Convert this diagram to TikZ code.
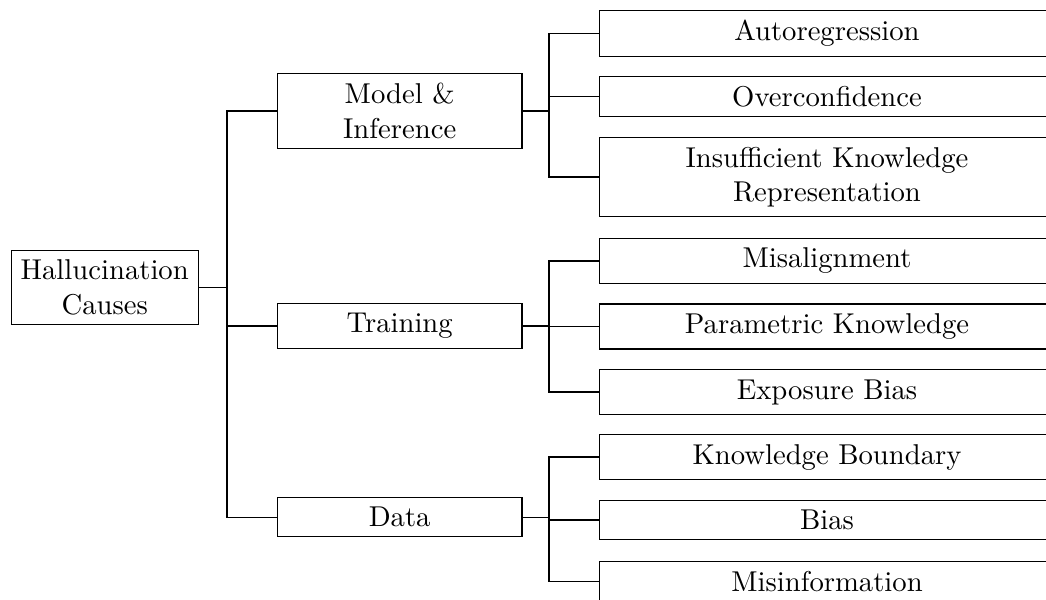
\documentclass[tikz,border=0pt]{standalone}
\begin{document}
\begin{tikzpicture}[x=0.3488pt, y=-0.3488pt,
  box/.style={draw, rectangle, align=center, inner sep=0.3333em, line width=0.4pt},
  rootbox/.style={box},
  midbox/.style={box, minimum width=3cm},
  leafbox/.style={box, minimum width=158.7pt},
  link/.style={draw, line width=0.4pt}]
\useasboundingbox (0,0) rectangle (1046,599);
\clip (0,0) rectangle (1046,599);

% fork columns
\coordinate (f0) at (227,0);
\coordinate (f1) at (549,0);

% root
\node[rootbox] (root) at (104.7,287.2) {Hallucination\\Causes};

% second level
\node[midbox] (m1) at (399.7,111) {Model \&\\Inference};
\node[midbox] (m2) at (399.7,326) {Training};
\node[midbox] (m3) at (399.7,517.3) {Data};

% leaves
\node[leafbox] (l1) at (827,33.5) {Autoregression};
\node[leafbox] (l2) at (827,96.5) {Overconfidence};
\node[leafbox] (l3) at (827,177) {Insufficient Knowledge\\Representation};
\node[leafbox] (l4) at (827,261) {Misalignment};
\node[leafbox] (l5) at (827,326.5) {Parametric Knowledge};
\node[leafbox] (l6) at (827,392) {Exposure Bias};
\node[leafbox] (l7) at (827,457) {Knowledge Boundary};
\node[leafbox] (l8) at (827,520) {Bias};
\node[leafbox] (l9) at (827,581.5) {Misinformation};

% forked edges
\foreach \c in {m1,m2,m3}
  \path[link] (root.east) -- (root.east -| f0) |- (\c.west);
\foreach \c in {l1,l2,l3}
  \path[link] (m1.east) -- (m1.east -| f1) |- (\c.west);
\foreach \c in {l4,l5,l6}
  \path[link] (m2.east) -- (m2.east -| f1) |- (\c.west);
\foreach \c in {l7,l8,l9}
  \path[link] (m3.east) -- (m3.east -| f1) |- (\c.west);
\end{tikzpicture}
\end{document}
